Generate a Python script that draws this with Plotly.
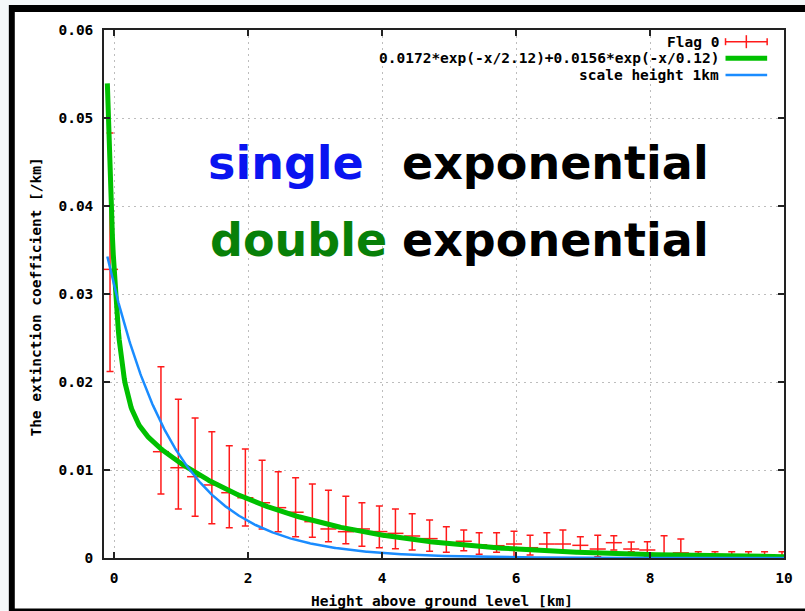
import numpy as np
import plotly.graph_objects as go

# ---- measured extinction profile ("Flag 0") ----
height_km = [-0.06, 0.70, 0.96, 1.21, 1.46, 1.72, 1.96, 2.21, 2.45, 2.71,
             2.96, 3.20, 3.46, 3.70, 3.96, 4.20, 4.45, 4.71, 4.96, 5.22,
             5.45, 5.71, 5.97, 6.21, 6.46, 6.70, 6.96, 7.22, 7.46, 7.72,
             7.96, 8.21, 8.46, 8.72, 8.97, 9.22, 9.47, 9.71, 9.97]
ext_coef = [0.0328, 0.01208, 0.01026, 0.00924, 0.0083, 0.00742, 0.00685, 0.00628, 0.00572, 0.0052,
            0.00413, 0.0033, 0.00299, 0.0033, 0.0030, 0.0028, 0.0025, 0.0022, 0.00159, 0.0019,
            0.0015, 0.0014, 0.00159, 0.00117, 0.00159, 0.00159, 0.00144, 0.00102, 0.00174, 0.00102,
            0.00091, 0.00045, 0.00058, -0.0001, -0.0001, -0.0001, -0.0001, -0.0001, -0.0001]
ext_hi = [0.0483, 0.02174, 0.01803, 0.01591, 0.01435, 0.01276, 0.01239, 0.0111, 0.00981, 0.00913,
          0.00841, 0.00769, 0.00701, 0.00628, 0.00591, 0.00557, 0.00503, 0.00432, 0.00356, 0.00318,
          0.00288, 0.00288, 0.00303, 0.00258, 0.00288, 0.00318, 0.00242, 0.00258, 0.00253, 0.00182,
          0.00185, 0.00253, 0.00216, 0.00072, 0.00072, 0.00072, 0.00072, 0.00072, 0.00072]
ext_lo = [0.0212, 0.00727, 0.00557, 0.00474, 0.0039, 0.00344, 0.00364, 0.0033, 0.00299, 0.00242,
          0.00235, 0.00185, 0.00163, 0.00133, 0.00117, 0.00106, 0.00091, 0.00076, 0.00065, 0.00083,
          0.00042, 0.00065, 0.00015, 0.00034, 0.00091, 0.00083, 0.00072, 0.00015, 0.00091, 0.00072,
          0.0002, -0.00042, -0.00099, -0.00099, -0.00099, -0.00099, -0.00099, -0.00099, -0.00099]
height_halfbin = 0.12

# ---- fitted profiles ----
double_amp = [0.0172, 0.0156]      # /km
double_scale = [2.12, 0.12]        # km
single_amp = [0.031]
single_scale = [1.0]
fit_x_range = [-0.1, 10.0]

x_ticks = [0, 2, 4, 6, 8, 10]
y_ticks = [0, 0.01, 0.02, 0.03, 0.04, 0.05, 0.06]
y_tick_text = ["0", "0.01", "0.02", "0.03", "0.04", "0.05", "0.06"]

legend_labels = ["Flag 0", "0.0172*exp(-x/2.12)+0.0156*exp(-x/0.12)", "scale height 1km"]

RED = "#ff1a1a"
GREEN = "#00c000"
BLUE = "#1a8cff"
MONO = "DejaVu Sans Mono"

xs = np.linspace(fit_x_range[0], fit_x_range[1], 800)
double_fit = sum(a * np.exp(-xs / h) for a, h in zip(double_amp, double_scale))
single_fit = sum(a * np.exp(-xs / h) for a, h in zip(single_amp, single_scale))

y_arr = np.array(ext_coef)
err_plus = np.array(ext_hi) - y_arr
err_minus = y_arr - np.array(ext_lo)

fig = go.Figure()
fig.add_trace(go.Scatter(
    x=height_km, y=ext_coef, mode="markers", name=legend_labels[0],
    marker=dict(size=1, color="rgba(0,0,0,0)"),
    error_y=dict(type="data", array=err_plus, arrayminus=err_minus, symmetric=False,
                 color=RED, thickness=1.5, width=3.5),
    error_x=dict(type="constant", value=height_halfbin, color=RED, thickness=1.5, width=0),
    cliponaxis=False, showlegend=False))
fig.add_trace(go.Scatter(x=xs, y=double_fit, mode="lines", name=legend_labels[1],
                         line=dict(color=GREEN, width=5), showlegend=False))
fig.add_trace(go.Scatter(x=xs, y=single_fit, mode="lines", name=legend_labels[2],
                         line=dict(color=BLUE, width=2.5), showlegend=False))

W, H = 805, 611
ML, MR, MT, MB = 104, 15, 30, 53
PW, PH = W - ML - MR, H - MT - MB


def px(xp):
    return (xp - ML) / PW


def py(yp):
    return (H - MB - yp) / PH


shapes = [
    # page frame
    dict(type="rect", xref="paper", yref="paper", x0=px(8), x1=px(812), y0=py(5), y1=py(613),
         fillcolor="#000000", line=dict(width=0), layer="below"),
    dict(type="rect", xref="paper", yref="paper", x0=px(14), x1=px(812), y0=py(12), y1=py(608.5),
         fillcolor="#ffffff", line=dict(width=0), layer="below"),
]

# key symbols
lx0, lx1 = px(731), px(773)
lxc = px(752)
rows = [41.7, 58.3, 75.0]
shapes += [
    dict(type="line", xref="paper", yref="paper", x0=lx0, x1=lx1, y0=py(rows[0]), y1=py(rows[0]),
         line=dict(color=RED, width=1.5)),
    dict(type="line", xref="paper", yref="paper", x0=lx0, x1=lx0, y0=py(rows[0] - 3.5), y1=py(rows[0] + 3.5),
         line=dict(color=RED, width=1.5)),
    dict(type="line", xref="paper", yref="paper", x0=lx1, x1=lx1, y0=py(rows[0] - 3.5), y1=py(rows[0] + 3.5),
         line=dict(color=RED, width=1.5)),
    dict(type="line", xref="paper", yref="paper", x0=lxc, x1=lxc, y0=py(rows[0] - 6.5), y1=py(rows[0] + 6.5),
         line=dict(color=RED, width=1.5)),
    dict(type="line", xref="paper", yref="paper", x0=lx0, x1=lx1, y0=py(rows[1]), y1=py(rows[1]),
         line=dict(color=GREEN, width=5)),
    dict(type="line", xref="paper", yref="paper", x0=lx0, x1=lx1, y0=py(rows[2]), y1=py(rows[2]),
         line=dict(color=BLUE, width=2.5)),
]

annotations = []
for label, row in zip(legend_labels, rows):
    annotations.append(dict(xref="paper", yref="paper", x=px(726), y=py(row), text=label,
                            xanchor="right", yanchor="middle", showarrow=False,
                            font=dict(family=MONO, size=14.5, color="#000000", weight="bold")))

BIG = "Comic Sans MS, DejaVu Sans, sans-serif"
big_words = [("single", "#0a14f0", 207, "left", 163),
             ("exponential", "#000000", 716, "right", 163),
             ("double", "#088008", 209, "left", 240),
             ("exponential", "#000000", 716, "right", 240)]
for word, col, xpix, anchor, ypix in big_words:
    annotations.append(dict(xref="paper", yref="paper", x=px(xpix), y=py(ypix), text=word,
                            xanchor=anchor, yanchor="middle", showarrow=False,
                            font=dict(family=BIG, size=46, color=col, weight="bold")))

annotations.append(dict(xref="paper", yref="paper", x=px(445), y=py(601),
                        text="Height above ground level [km]", showarrow=False,
                        xanchor="center", yanchor="middle",
                        font=dict(family=MONO, size=14.5, color="#000000", weight="bold")))
annotations.append(dict(xref="paper", yref="paper", x=px(35), y=py(297),
                        text="The extinction coefficient [/km]", showarrow=False, textangle=-90,
                        xanchor="center", yanchor="middle",
                        font=dict(family=MONO, size=14.5, color="#000000", weight="bold")))

axis_common = dict(showline=True, linecolor="#222222", linewidth=1.5, mirror="allticks",
                   ticks="inside", ticklen=6, tickwidth=1.5, tickcolor="#222222",
                   showgrid=True, gridcolor="#bdbdbd", gridwidth=1.2, griddash="2px,4px",
                   zeroline=False,
                   tickfont=dict(family=MONO, size=14.5, color="#000000", weight="bold"))

fig.update_layout(
    width=W, height=H,
    margin=dict(l=ML, r=MR, t=MT, b=MB),
    paper_bgcolor="#f4f8f9", plot_bgcolor="#ffffff",
    shapes=shapes, annotations=annotations,
    xaxis=dict(range=[-0.15, 10], tickvals=x_ticks, ticklabelstandoff=6, **axis_common),
    yaxis=dict(range=[0, 0.06], tickvals=y_ticks, ticktext=y_tick_text, ticklabelstandoff=6,
               **axis_common),
)

fig.write_html("out.html")
